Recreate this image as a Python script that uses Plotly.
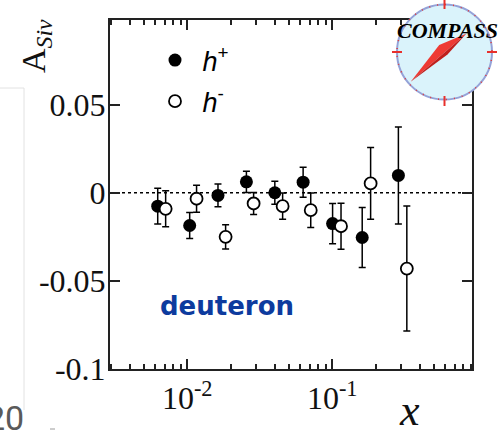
import plotly.graph_objects as go

# ---------------- data ----------------
x_hplus = [0.00626, 0.0104, 0.0163, 0.0256, 0.0402, 0.0630, 0.1006, 0.161, 0.286]
a_hplus = [-0.0076, -0.0186, -0.0015, 0.0062, 0.0000, 0.0060, -0.0175, -0.0254, 0.0098]
e_hplus = [0.0101, 0.0074, 0.0065, 0.0060, 0.0065, 0.0085, 0.0114, 0.0170, 0.0275]

x_hminus = [0.0071, 0.0116, 0.0184, 0.0287, 0.0455, 0.0711, 0.115, 0.184, 0.327]
a_hminus = [-0.0091, -0.0034, -0.0250, -0.0061, -0.0076, -0.0099, -0.0190, 0.0053, -0.0430]
e_hminus = [0.0102, 0.0076, 0.0069, 0.0063, 0.0074, 0.0098, 0.0130, 0.0203, 0.0355]

y_tickvals = [-0.1, -0.05, 0, 0.05]
y_ticktext = ["-0.1", "-0.05", "0", "0.05"]
x_tickvals = [0.01, 0.1]
x_ticktext = ["10<sup>-2</sup>", "10<sup>-1</sup>"]

# ---------------- layout helpers ----------------
W, H = 499, 438
L, R, T, B = 110, 27, 20, 69
PW, PH = W - L - R, H - T - B


def px(x):
    return (x - L) / PW


def py(y):
    return (H - B - y) / PH


SERIF = "Liberation Serif, Times New Roman, serif"
AX = "#222222"

fig = go.Figure()
fig.add_trace(go.Scatter(
    x=x_hplus, y=a_hplus, mode="markers", name="&nbsp;<i>h</i><sup>+</sup>", legendgroup="p",
    marker=dict(symbol="circle", size=13, color="black"),
    error_y=dict(type="data", array=e_hplus, color="black", thickness=1.5, width=3.5),
))
fig.add_trace(go.Scatter(
    x=x_hminus, y=a_hminus, mode="markers", name="&nbsp;<i>h</i><sup>-</sup>", legendgroup="m",
    marker=dict(symbol="circle", size=12, color="white", line=dict(color="black", width=1.8)),
    error_y=dict(type="data", array=e_hminus, color="black", thickness=1.5, width=3.5),
))

minor_vals = [m * 10 ** e for e in (-3, -2, -1) for m in range(2, 10)]

fig.update_layout(
    width=W, height=H,
    margin=dict(l=L, r=R, t=T, b=B),
    paper_bgcolor="white", plot_bgcolor="white",
    showlegend=True,
    legend=dict(x=px(155), y=py(36), xanchor="left", yanchor="top",
                bgcolor="rgba(0,0,0,0)", borderwidth=0,
                font=dict(family="Liberation Sans, Arial, sans-serif", size=27, color="black"),
                tracegroupgap=3, itemwidth=30),
    xaxis=dict(
        type="log", range=[-2.5325, -0.036],
        showline=True, linecolor=AX, linewidth=2, mirror="ticks",
        ticks="inside", ticklen=10, tickwidth=1.5, tickcolor=AX,
        tickmode="array", tickvals=x_tickvals, ticktext=x_ticktext,
        tickfont=dict(family=SERIF, size=32, color="#111"),
        showgrid=False, zeroline=False,
        minor=dict(tickmode="array", tickvals=minor_vals, ticks="inside", ticklen=5,
                   tickwidth=1.5, tickcolor=AX, showgrid=False),
    ),
    yaxis=dict(
        range=[-0.1, 0.098],
        showline=True, linecolor=AX, linewidth=2, mirror="ticks",
        ticks="inside", ticklen=10, tickwidth=1.5, tickcolor=AX,
        tickmode="array", tickvals=y_tickvals, ticktext=y_ticktext,
        tickfont=dict(family=SERIF, size=32, color="#111"),
        ticklabelstandoff=-4,
        showgrid=False, zeroline=False,
    ),
)

shapes = []
# dotted zero line
shapes.append(dict(type="line", xref="paper", yref="y", x0=0, x1=1, y0=0, y1=0,
                   line=dict(color="black", width=1.5, dash="dot"), layer="below"))

# slide artefacts at the left edge
shapes.append(dict(type="line", xref="paper", yref="paper", x0=px(24), x1=px(24), y0=py(88), y1=py(410),
                   line=dict(color="#e2e2e2", width=1)))
shapes.append(dict(type="line", xref="paper", yref="paper", x0=px(0), x1=px(24), y0=py(88), y1=py(88),
                   line=dict(color="#e2e2e2", width=1)))
shapes.append(dict(type="line", xref="paper", yref="paper", x0=px(50), x1=px(55), y0=py(429), y1=py(429),
                   line=dict(color="#9a9a9a", width=1)))

# COMPASS logo
cx, cy, r = 444.5, 52, 47.5
shapes.append(dict(type="circle", xref="paper", yref="paper", layer="above",
                   x0=px(cx - r), x1=px(cx + r), y0=py(cy + r), y1=py(cy - r),
                   fillcolor="#daf3fb", line=dict(color="#95a3d8", width=2)))
shapes.append(dict(type="circle", xref="paper", yref="paper", layer="above",
                   x0=px(cx - r), x1=px(cx + r), y0=py(cy + r), y1=py(cy - r),
                   line=dict(color="#e03a3a", width=1.5, dash="1px,7px")))
for (xa, ya, xb, yb) in [(cx, 0, cx, 9), (cx, 96, cx, 106), (392, cy, 402, cy), (487, cy, 497, cy)]:
    shapes.append(dict(type="line", xref="paper", yref="paper", layer="above",
                       x0=px(xa), x1=px(xb), y0=py(ya), y1=py(yb),
                       line=dict(color="#e8302c", width=2)))
tip1 = (410.7, 81.7)
tip2 = (466.5, 33.5)
sa = (447.5, 54.5)
sb = (439.2, 45.0)


def path(pts):
    return "M " + " L ".join(f"{px(a):.5f},{py(b):.5f}" for a, b in pts) + " Z"


shapes.append(dict(type="path", xref="paper", yref="paper", layer="above",
                   path=path([tip1, sb, tip2]), fillcolor="#ee3a34", line=dict(width=0)))
shapes.append(dict(type="path", xref="paper", yref="paper", layer="above",
                   path=path([tip1, sa, tip2]), fillcolor="#c01f1c", line=dict(width=0)))
fig.update_layout(shapes=shapes)

ann = []
ann.append(dict(text="<b><i>COMPASS</i></b>", xref="paper", yref="paper", x=px(447), y=py(30),
                xanchor="center", yanchor="middle", showarrow=False,
                font=dict(family=SERIF, size=22, color="black")))
ann.append(dict(text="A<sub><i>Siv</i></sub>", xref="paper", yref="paper", x=px(36), y=py(46),
                xanchor="center", yanchor="middle", showarrow=False, textangle=-90,
                font=dict(family=SERIF, size=34, color="#111")))
ann.append(dict(text="<i>x</i>", xref="paper", yref="paper", x=px(409), y=py(410),
                xanchor="center", yanchor="middle", showarrow=False,
                font=dict(family=SERIF, size=44, color="#111")))
ann.append(dict(text="<b>deuteron</b>", xref="paper", yref="paper", x=px(227), y=py(306),
                xanchor="center", yanchor="middle", showarrow=False,
                font=dict(family="DejaVu Sans, sans-serif", size=26, color="#0d3b9e")))
ann.append(dict(text="20", xref="paper", yref="paper", x=px(26), y=py(418),
                xanchor="right", yanchor="middle", showarrow=False,
                font=dict(family="Roboto, sans-serif", size=34, color="#5a5a5a")))
fig.update_layout(annotations=ann)

fig.write_html("out.html")
